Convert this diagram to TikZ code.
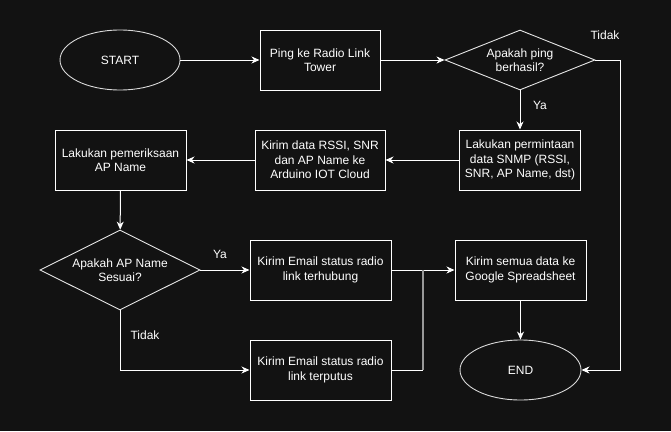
\documentclass[tikz,border=0pt]{standalone}
\usepackage{fontspec}
\setmainfont{Liberation Sans}
\usetikzlibrary{shapes.geometric,arrows.meta}

\definecolor{bgdark}{HTML}{121212}
\tikzset{
  box/.style={draw=white, line width=1pt, minimum height=60pt, inner sep=0pt, align=center, text=white},
  oval/.style={ellipse, draw=white!85!black, line width=0.9pt, minimum width=120pt, minimum height=60pt, inner sep=0pt, text=white},
  cond/.style={diamond, draw=white!90!black, line width=0.9pt, inner sep=0pt, align=center, text=white},
  arr/.style={draw=white, line width=1pt, -{Stealth[length=8pt,width=7pt,inset=2.5pt]}},
  lbl/.style={text=white},
}

\begin{document}
\begin{tikzpicture}[x=1pt, y=-1pt, font=\fontsize{12}{14.5}\selectfont]
    \fill[bgdark] (0,0) rectangle (671,431);

    \node[oval] (start) at (120,60) {START};
    \node[box, minimum width=120pt] (ping) at (320,60) {Ping ke Radio Link\\Tower};
    \node[cond, aspect=2.5, minimum width=150pt, minimum height=60pt] (cekping) at (520,60) {Apakah ping\\berhasil?};
    \node[box, minimum width=121pt] (snmp) at (520,160) {Lakukan permintaan\\data SNMP (RSSI,\\SNR, AP Name, dst)};
    \node[box, minimum width=130pt] (kirimiot) at (320,160) {Kirim data RSSI, SNR\\dan AP Name ke\\Arduino IOT Cloud};
    \node[box, minimum width=131pt] (periksa) at (120.5,160) {Lakukan pemeriksaan\\AP Name};
    \node[cond, aspect=2, minimum width=160pt, minimum height=80pt] (cekap) at (120,270) {Apakah AP Name\\Sesuai?};
    \node[box, minimum width=141pt] (mailok) at (320.5,270) {Kirim Email status radio\\link terhubung};
    \node[box, minimum width=141pt] (mailputus) at (320.5,370) {Kirim Email status radio\\link terputus};
    \node[box, minimum width=131pt] (sheet) at (520.5,270) {Kirim semua data ke\\Google Spreadsheet};
    \node[oval, minimum width=121pt] (end) at (520.5,370) {END};

    \node[lbl] (tidak1) at (605,35) {Tidak};
    \node[lbl] (ya1) at (540,105) {Ya};
    \node[lbl] (ya2) at (220,254) {Ya};
    \node[lbl] (tidak2) at (145,335) {Tidak};

    \coordinate (belok) at (620,60);
    \coordinate (gabung) at (423,270);

    \draw[arr] (start) -- (ping);
    \draw[arr] (ping) -- (cekping);
    \draw[arr] (cekping) -- (snmp);
    \draw[arr] (cekping.east) -- (belok) |- (end.east);
    \draw[arr] (snmp) -- (kirimiot);
    \draw[arr] (kirimiot) -- (periksa);
    \draw[arr] (periksa) -- (cekap);
    \draw[arr] (cekap) -- (mailok);
    \draw[arr] (cekap.south) |- (mailputus.west);
    \draw[arr] (mailok) -- (sheet);
    \draw[white, line width=1pt] (mailputus.east) -- (gabung |- mailputus.east);
    \draw[gray!80, line width=1.5pt] (gabung |- mailputus.east) -- (gabung);
    \draw[arr] (sheet) -- (end);
\end{tikzpicture}
\end{document}
